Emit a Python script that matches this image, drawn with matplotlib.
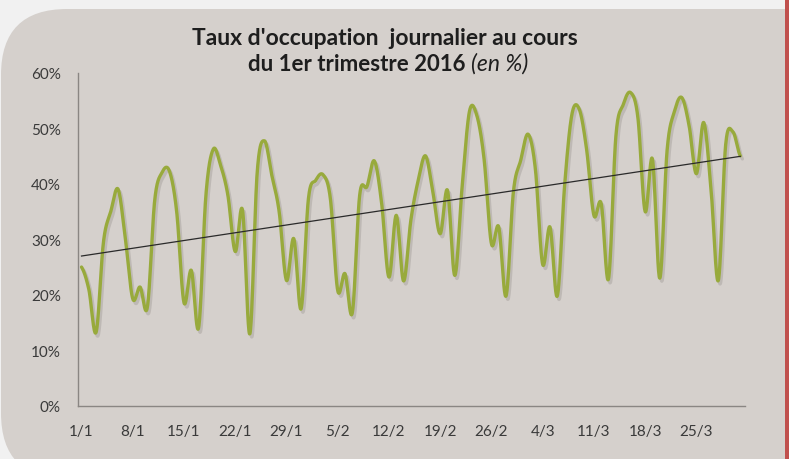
import numpy as np
import matplotlib
matplotlib.use("Agg")
import matplotlib.pyplot as plt
from matplotlib.patches import FancyBboxPatch, Rectangle
import matplotlib.patheffects as pe

# ---------------- data ----------------
title_line1 = "Taux d'occupation  journalier au cours"
title_line2_bold = "du 1er trimestre 2016"
title_line2_italic = "(en %)"

occupancy = [
    25.0, 21.0, 13.3, 29.5, 35.0, 39.0, 30.0, 19.3, 21.4, 17.8,
    37.0, 42.0, 42.3, 35.0, 18.6, 24.4, 14.1, 38.0, 46.2, 43.3,
    37.9, 27.8, 35.2, 13.0, 42.0, 47.7, 41.5, 35.0, 22.6, 30.1,
    17.5, 37.3, 40.6, 41.6, 37.3, 20.8, 23.8, 16.8, 37.9, 39.5,
    44.1, 36.5, 23.2, 34.3, 22.5, 33.5, 40.6, 45.0, 38.5, 31.0,
    38.8, 23.5, 39.5, 53.0, 52.3, 44.4, 29.2, 32.2, 19.8, 38.5,
    44.2, 48.9, 42.7, 25.5, 32.2, 19.8, 39.7, 52.5, 53.4, 46.2,
    34.3, 36.4, 22.9, 48.5, 54.2, 56.4, 52.0, 35.0, 44.4, 23.0,
    46.0, 53.0, 55.5, 50.5, 41.8, 51.0, 39.0, 22.6, 47.0, 49.3,
    45.0,
]
tick_labels = ["1/1", "8/1", "15/1", "22/1", "29/1", "5/2", "12/2",
               "19/2", "26/2", "4/3", "11/3", "18/3", "25/3"]
y_ticks = [0, 10, 20, 30, 40, 50, 60]

# ---------------- helpers ----------------
def catmull_rom(x, y, n=24):
    x = np.asarray(x, float)
    y = np.asarray(y, float)
    xs, ys = [], []
    m = len(y)
    for i in range(m - 1):
        p0 = y[i - 1] if i > 0 else y[i]
        p1, p2 = y[i], y[i + 1]
        p3 = y[i + 2] if i + 2 < m else y[i + 1]
        t = np.linspace(0, 1, n, endpoint=False)
        m1 = (p2 - p0) / 2.0
        m2 = (p3 - p1) / 2.0
        h00 = 2 * t**3 - 3 * t**2 + 1
        h10 = t**3 - 2 * t**2 + t
        h01 = -2 * t**3 + 3 * t**2
        h11 = t**3 - t**2
        ys.append(h00 * p1 + h10 * m1 + h01 * p2 + h11 * m2)
        xs.append(x[i] + t * (x[i + 1] - x[i]))
    xs.append([x[-1]])
    ys.append([y[-1]])
    return np.concatenate(xs), np.concatenate(ys)

# ---------------- figure ----------------
W, H = 789, 460
fig = plt.figure(figsize=(W / 100, H / 100), dpi=100)
fig.patch.set_facecolor("#f1f1f1")

# background layer in pixel coordinates
bg = fig.add_axes([0, 0, 1, 1], zorder=0)
bg.set_xlim(0, W)
bg.set_ylim(H, 0)
bg.axis("off")
panel = FancyBboxPatch((1, 10), 950, 470,
                       boxstyle="round,pad=0,rounding_size=66",
                       facecolor="#d5d0cc", edgecolor="none")
bg.add_patch(panel)
bg.add_patch(Rectangle((785, 0), 6, H, facecolor="#c0504d", edgecolor="none"))

# main axes
x0_px, x1_px = 77.5, 745.0
y0_px, y1_px = 407.0, 73.5
day0_px, px_per_day = 81.5, 7.32
ax = fig.add_axes([x0_px / W, 1 - y0_px / H, (x1_px - x0_px) / W, (y0_px - y1_px) / H],
                  zorder=2)
ax.set_facecolor("none")

days = np.arange(len(occupancy))
xs, ys = catmull_rom(days, occupancy)
ax.plot(xs, ys, color="#98aa3c", lw=2.4, solid_capstyle="round",
        path_effects=[pe.SimpleLineShadow(offset=(1.5, -2.2), shadow_color="#8a8480",
                                          alpha=0.3),
                      pe.Normal()])

# linear trend line
coef = np.polyfit(days, occupancy, 1)
ax.plot([days[0], days[-1]], np.polyval(coef, [days[0], days[-1]]),
        color="#2a2a2a", lw=0.9, zorder=3)

ax.set_xlim((x0_px - day0_px) / px_per_day, (x1_px - day0_px) / px_per_day)
ax.set_ylim(0, 60)

ax.set_xticks(days[::7][:len(tick_labels)])
ax.set_xticklabels(tick_labels)
ax.set_yticks(y_ticks)
ax.set_yticklabels([f"{v}%" for v in y_ticks])

for s in ["top", "right"]:
    ax.spines[s].set_visible(False)
for s in ["left", "bottom"]:
    ax.spines[s].set_color("#8a8683")
    ax.spines[s].set_linewidth(1.0)

ax.tick_params(axis="both", length=0, labelsize=11, colors="#3a3a3a")
ax.tick_params(axis="y", pad=12)
ax.tick_params(axis="x", pad=13)
for lab in ax.get_xticklabels() + ax.get_yticklabels():
    lab.set_family("Lato")

# title
fig.text(385 / W, 1 - 45 / H, title_line1, ha="center", va="baseline",
         fontsize=16.5, fontweight="bold", family="Lato", color="#1e1e1e")
fig.text(466 / W, 1 - 71 / H, title_line2_bold, ha="right", va="baseline",
         fontsize=16, fontweight="bold", family="Lato", color="#1e1e1e")
fig.text(471 / W, 1 - 71 / H, title_line2_italic, ha="left", va="baseline",
         fontsize=16.5, style="italic", family="Lato", color="#1e1e1e")

fig.savefig("out.png", dpi=100, facecolor=fig.get_facecolor())
